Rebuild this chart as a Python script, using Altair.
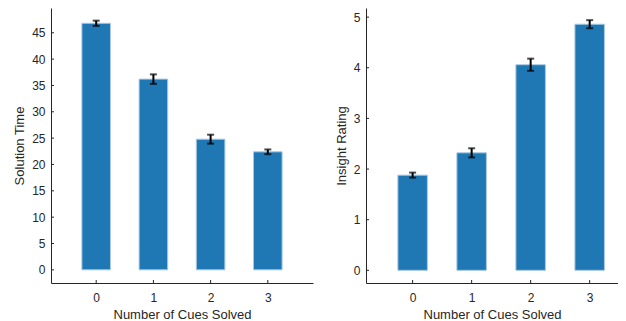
import altair as alt
import pandas as pd

cues = [0, 1, 2, 3]
time_mean = [46.8, 36.2, 24.8, 22.4]
time_err = [0.5, 0.9, 0.85, 0.45]
rating_mean = [1.88, 2.32, 4.06, 4.86]
rating_err = [0.05, 0.09, 0.12, 0.08]
time_ticks = [0, 5, 10, 15, 20, 25, 30, 35, 40, 45]
rating_ticks = [0, 1, 2, 3, 4, 5]

XTITLE = "Number of Cues Solved"
TXT = "#262626"


def panel(means, errs, ytitle, ydomain, yticks, xdomain, width, height):
    df = pd.DataFrame({"cue": cues, "m": means, "e": errs})
    xs = alt.Scale(domain=xdomain, nice=False, zero=False)
    ys = alt.Scale(domain=ydomain, nice=False, zero=False)
    xax = alt.Axis(values=cues, title=XTITLE, ticks=False, format="d")
    yax = alt.Axis(values=yticks, title=ytitle, ticks=False, format="d")
    base = alt.Chart(df).transform_calculate(
        x0="datum.cue - 0.25", x1="datum.cue + 0.25",
        lo="datum.m - datum.e", hi="datum.m + datum.e")
    bars = base.mark_bar(color="#1f77b4", stroke="#a9c9e2", strokeWidth=1).encode(
        x=alt.X("x0:Q", scale=xs, axis=xax), x2="x1:Q",
        y=alt.Y("m:Q", scale=ys, axis=yax), y2=alt.datum(0))
    rule = base.mark_rule(color="black", strokeWidth=2).encode(
        x=alt.X("cue:Q", scale=xs, axis=xax),
        y=alt.Y("lo:Q", scale=ys, axis=yax), y2="hi:Q")
    cap_lo = base.mark_tick(color="black", orient="horizontal", size=7, thickness=2).encode(
        x=alt.X("cue:Q", scale=xs, axis=xax), y=alt.Y("lo:Q", scale=ys, axis=yax))
    cap_hi = base.mark_tick(color="black", orient="horizontal", size=7, thickness=2).encode(
        x=alt.X("cue:Q", scale=xs, axis=xax), y=alt.Y("hi:Q", scale=ys, axis=yax))
    ytk = alt.Chart(pd.DataFrame({"v": yticks})).mark_rule(color=TXT, strokeWidth=1).encode(
        y=alt.Y("v:Q", scale=ys, axis=yax), x=alt.value(0), x2=alt.value(3))
    xtk = alt.Chart(pd.DataFrame({"v": cues})).mark_rule(color=TXT, strokeWidth=1).encode(
        x=alt.X("v:Q", scale=xs, axis=xax), y=alt.value(height), y2=alt.value(height - 3))
    return alt.layer(bars, rule, cap_lo, cap_hi, ytk, xtk).properties(width=width, height=height)


left = panel(time_mean, time_err, "Solution Time", [-2.5, 49.7], time_ticks, [-0.79, 3.79], 262, 275)
right = panel(rating_mean, rating_err, "Insight Rating", [-0.25, 5.18], rating_ticks, [-0.79, 3.48], 252, 275)

chart = alt.hconcat(
    left, right, spacing=22,
    padding={"left": 5, "top": 0, "right": 0, "bottom": 0},
).configure_view(stroke=None).configure_axis(
    grid=False, domainColor=TXT, domainWidth=1, labelColor=TXT, titleColor=TXT,
    labelFont="Liberation Sans", titleFont="Liberation Sans",
    labelFontSize=12, titleFontSize=13, titleFontWeight="normal",
).configure_axisX(labelPadding=9, titlePadding=5).configure_axisY(labelPadding=6, titlePadding=5)

chart.save("out.html", embed_options={"renderer": "svg", "actions": False})
